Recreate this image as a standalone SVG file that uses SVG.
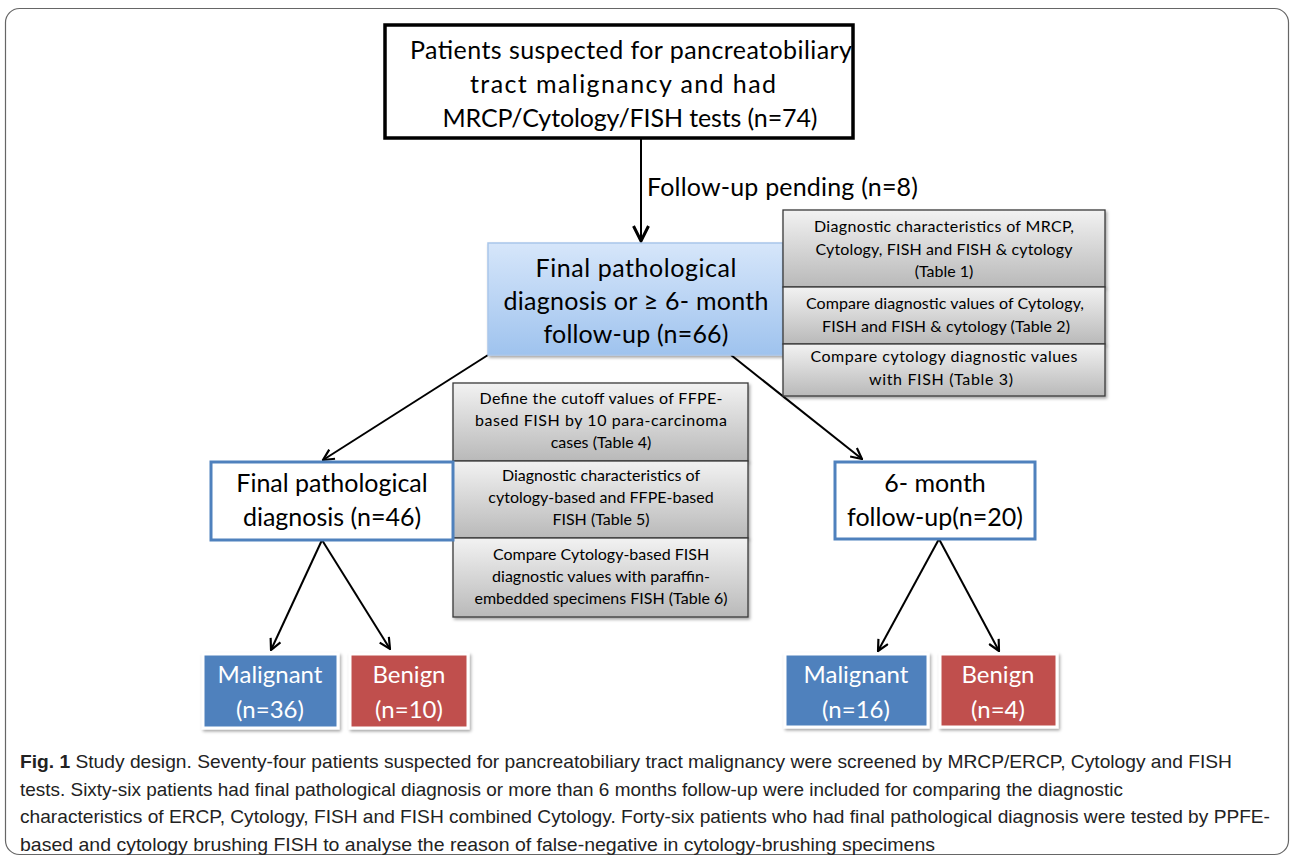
<svg xmlns="http://www.w3.org/2000/svg" width="1292" height="860" viewBox="0 0 1292 860">
<defs>
<linearGradient id="gGrey" x1="0" y1="0" x2="0" y2="1">
<stop offset="0" stop-color="#f2f2f2"/><stop offset="1" stop-color="#b9b9b9"/>
</linearGradient>
<linearGradient id="gBlue" x1="0" y1="0" x2="0" y2="1">
<stop offset="0" stop-color="#d6e6fa"/><stop offset="1" stop-color="#9fc3ee"/>
</linearGradient>
<filter id="sh" x="-10%" y="-10%" width="130%" height="130%">
<feDropShadow dx="1.5" dy="2" stdDeviation="1.5" flood-color="#000" flood-opacity="0.35"/>
</filter>
<marker id="ah" viewBox="0 0 12 12" refX="11" refY="6" markerWidth="13" markerHeight="13" markerUnits="userSpaceOnUse" orient="auto">
<path d="M1,1 L11,6 L1,11" fill="none" stroke="#000" stroke-width="2"/>
</marker>
<marker id="ahb" viewBox="0 0 12 12" refX="11" refY="6" markerWidth="18" markerHeight="18" markerUnits="userSpaceOnUse" orient="auto">
<path d="M1,1 L11,6 L1,11" fill="none" stroke="#000" stroke-width="2"/>
</marker>
</defs>
<style>
.t{font-family:Lato,"Liberation Sans",sans-serif;fill:#000;text-anchor:middle}
.big{font-size:25px}
.sm{font-size:16px}
.w{fill:#fff;font-size:24px}
.grey{fill:url(#gGrey);stroke:#3a3a3a;stroke-width:1.3}
.out{fill:#fff;stroke:#4f81bd;stroke-width:3}
.cap{font-family:"Liberation Sans",sans-serif;font-size:19px;fill:#222}
.con{stroke:#000;stroke-width:2;fill:none}
</style>
<rect x="5.5" y="8.5" width="1283" height="846" rx="14" fill="#fff" stroke="#666" stroke-width="1.2"/>

<g id="connectors">
<line class="con" x1="641" y1="138" x2="641" y2="241" stroke-width="3" marker-end="url(#ahb)"/>
<line class="con" x1="488" y1="355" x2="323" y2="460" marker-end="url(#ah)"/>
<line class="con" x1="731" y1="355" x2="862" y2="459" marker-end="url(#ah)"/>
<line class="con" x1="322" y1="540" x2="271" y2="650" marker-end="url(#ah)"/>
<line class="con" x1="322" y1="540" x2="390" y2="649" marker-end="url(#ah)"/>
<line class="con" x1="939" y1="539" x2="878" y2="651" marker-end="url(#ah)"/>
<line class="con" x1="939" y1="539" x2="999" y2="651" marker-end="url(#ah)"/>
<text class="t big" x="647" y="196" style="text-anchor:start" textLength="271">Follow-up pending (n=8)</text>
</g>

<g id="n-top">
<rect x="385" y="25" width="468" height="113" fill="#fff" stroke="#000" stroke-width="3.5"/>
<text class="t big" x="631" y="59" textLength="442">Patients suspected for pancreatobiliary</text>
<text class="t big" x="623" y="93" textLength="306">tract malignancy  and had</text>
<text class="t big" x="630" y="127" textLength="375">MRCP/Cytology/FISH tests (n=74)</text>
</g>

<g id="n-final">
<rect x="488" y="243" width="295" height="112" fill="url(#gBlue)" stroke="#a9c6ea" stroke-width="1.5" filter="url(#sh)"/>
<text class="t big" x="636" y="277" textLength="201">Final pathological</text>
<text class="t big" x="636" y="310" textLength="265">diagnosis or ≥ 6- month</text>
<text class="t big" x="636" y="343" textLength="185">follow-up (n=66)</text>
</g>

<g id="n-t1">
<rect class="grey" x="783" y="210" width="322" height="77" filter="url(#sh)"/>
<text class="t sm" x="944" y="232" textLength="260">Diagnostic characteristics of MRCP,</text>
<text class="t sm" x="944" y="255" textLength="257">Cytology, FISH and FISH &amp; cytology</text>
<text class="t sm" x="944" y="277">(Table 1)</text>
</g>
<g id="n-t2">
<rect class="grey" x="783" y="287" width="322" height="57" filter="url(#sh)"/>
<text class="t sm" x="945" y="309" textLength="278">Compare diagnostic values of Cytology,</text>
<text class="t sm" x="946" y="332" textLength="248">FISH and FISH &amp; cytology (Table 2)</text>
</g>
<g id="n-t3">
<rect class="grey" x="783" y="344" width="322" height="52" filter="url(#sh)"/>
<text class="t sm" x="944" y="362" textLength="267">Compare cytology diagnostic values</text>
<text class="t sm" x="941" y="385" textLength="144">with FISH  (Table 3)</text>
</g>

<g id="n-t4">
<rect class="grey" x="453" y="383" width="295" height="78" filter="url(#sh)"/>
<text class="t sm" x="601" y="404" textLength="243">Define the cutoff values of FFPE-</text>
<text class="t sm" x="601" y="426" textLength="252">based FISH  by 10 para-carcinoma</text>
<text class="t sm" x="601" y="448">cases (Table 4)</text>
</g>
<g id="n-t5">
<rect class="grey" x="453" y="461" width="295" height="77" filter="url(#sh)"/>
<text class="t sm" x="601" y="481">Diagnostic characteristics of</text>
<text class="t sm" x="601" y="503">cytology-based and FFPE-based</text>
<text class="t sm" x="601" y="525">FISH (Table 5)</text>
</g>
<g id="n-t6">
<rect class="grey" x="453" y="538" width="295" height="79" filter="url(#sh)"/>
<text class="t sm" x="601" y="560">Compare Cytology-based FISH</text>
<text class="t sm" x="601" y="582">diagnostic values with paraffin-</text>
<text class="t sm" x="601" y="604">embedded specimens FISH (Table 6)</text>
</g>

<g id="n-path">
<rect class="out" x="211" y="462" width="242" height="78"/>
<text class="t big" x="332" y="492">Final pathological</text>
<text class="t big" x="332" y="526">diagnosis (n=46)</text>
</g>
<g id="n-fu">
<rect class="out" x="835" y="462" width="200" height="77"/>
<text class="t big" x="935" y="492">6- month</text>
<text class="t big" x="935" y="526">follow-up(n=20)</text>
</g>

<g id="n-m1">
<rect x="203" y="654" width="135" height="74" fill="#4f81bd" stroke="#fff" stroke-width="3" filter="url(#sh)"/>
<text class="t w" x="270" y="683">Malignant</text>
<text class="t w" x="270" y="718">(n=36)</text>
</g>
<g id="n-b1">
<rect x="350" y="654" width="118" height="74" fill="#c0504d" stroke="#fff" stroke-width="3" filter="url(#sh)"/>
<text class="t w" x="409" y="683">Benign</text>
<text class="t w" x="409" y="718">(n=10)</text>
</g>
<g id="n-m2">
<rect x="785" y="654" width="143" height="73" fill="#4f81bd" stroke="#fff" stroke-width="3" filter="url(#sh)"/>
<text class="t w" x="856" y="683">Malignant</text>
<text class="t w" x="856" y="718">(n=16)</text>
</g>
<g id="n-b2">
<rect x="940" y="654" width="117" height="73" fill="#c0504d" stroke="#fff" stroke-width="3" filter="url(#sh)"/>
<text class="t w" x="998" y="683">Benign</text>
<text class="t w" x="998" y="718">(n=4)</text>
</g>

<g id="caption">
<text class="cap" x="20" y="768" textLength="1212" lengthAdjust="spacingAndGlyphs"><tspan font-weight="bold">Fig. 1</tspan> Study design. Seventy-four patients suspected for pancreatobiliary tract malignancy were screened by MRCP/ERCP, Cytology and FISH</text>
<text class="cap" x="20" y="796" textLength="1103" lengthAdjust="spacingAndGlyphs">tests. Sixty-six patients had final pathological diagnosis or more than 6 months follow-up were included for comparing the diagnostic</text>
<text class="cap" x="20" y="823" textLength="1250" lengthAdjust="spacingAndGlyphs">characteristics of ERCP, Cytology, FISH and FISH combined Cytology. Forty-six patients who had final pathological diagnosis were tested by PPFE-</text>
<text class="cap" x="20" y="851" textLength="915" lengthAdjust="spacingAndGlyphs">based and cytology brushing FISH to analyse the reason of false-negative in cytology-brushing specimens</text>
</g>
</svg>
